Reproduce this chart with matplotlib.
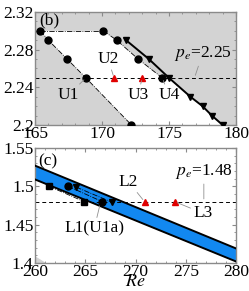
import matplotlib
matplotlib.use("Agg")
import matplotlib.pyplot as plt
from matplotlib.ticker import MultipleLocator

plt.rcParams['font.family'] = ['Liberation Serif', 'DejaVu Serif']
plt.rcParams['mathtext.fontset'] = 'stix'

# ---- panel (b) data ----
b_left_re = [165.4, 166.0, 167.4, 168.8, 172.2]
b_left_pe = [2.30, 2.29, 2.27, 2.25, 2.20]
b_top_re = [165.4, 170.1]
b_top_pe = [2.30, 2.30]
b_right_re = [170.1, 171.1, 172.7, 174.5]
b_right_pe = [2.30, 2.29, 2.27, 2.25]
b_tri_re = [171.8, 173.5, 175.0, 176.6, 177.5, 178.2, 179.0]
b_tri_pe = [2.29, 2.27, 2.25, 2.23, 2.22, 2.21, 2.20]
b_red_re = [170.9, 173.0]
b_red_pe = [2.25, 2.25]
b_pe_line = 2.25

# ---- panel (c) data ----
c_sq_re = [261.4, 264.9]
c_sq_pe = [1.50, 1.48]
c_circ_re = [263.3, 266.7]
c_circ_pe = [1.50, 1.48]
c_tri_re = [264.1, 267.7]
c_tri_pe = [1.499, 1.479]
c_red_re = [270.9, 273.9]
c_red_pe = [1.48, 1.48]
c_band_re = [260, 280]
c_band_upper = [1.527, 1.419]
c_band_lower = [1.509, 1.402]
c_pe_line = 1.48

gray_bg = '#d3d3d3'
spine_col = '#8a8a8a'
lead = dict(arrowstyle='-', color='#909090', lw=0.6, shrinkA=0, shrinkB=2)
FS = 12.5

fig = plt.figure(figsize=(2.49, 2.91), dpi=100)
W, H = 249, 291
axb = fig.add_axes([35 / W, 1 - 125 / H, 201 / W, 113 / H])
axc = fig.add_axes([35 / W, 1 - 263 / H, 201 / W, 115 / H])

def style(ax):
    for s in ax.spines.values():
        s.set_color(spine_col)
        s.set_linewidth(1.0)
    ax.tick_params(which='both', direction='in', top=True, right=True,
                   color=spine_col, labelsize=FS, pad=1.0)
    ax.tick_params(which='major', length=3)
    ax.tick_params(which='minor', length=1.5)

# ---- panel (b) ----
axb.set_facecolor(gray_bg)
poly_x = b_top_re + b_right_re + b_tri_re[2:] + b_left_re[::-1]
poly_y = b_top_pe + b_right_pe + b_tri_pe[2:] + b_left_pe[::-1]
axb.fill(poly_x, poly_y, color='white', zorder=1, lw=0)
axb.axhline(b_pe_line, color='black', ls=(0, (4, 3)), lw=0.7, zorder=2)
axb.plot(b_left_re, b_left_pe, color='black', ls='-.', lw=0.6, zorder=3)
axb.plot(b_top_re, b_top_pe, color='black', ls='-.', lw=0.6, zorder=3)
axb.plot(b_right_re, b_right_pe, color='black', ls='-.', lw=0.6, zorder=3)
axb.plot(b_left_re, b_left_pe, 'o', color='black', ms=5, zorder=4)
axb.plot(b_right_re, b_right_pe, 'o', color='black', ms=5, zorder=4)
axb.plot(b_tri_re, b_tri_pe, '-v', color='black', lw=1.4, ms=5, zorder=4)
axb.plot(b_red_re, b_red_pe, '^', color='#e00000', ms=4, zorder=5)

axb.set_xlim(165, 180)
axb.set_ylim(2.2, 2.32)
axb.xaxis.set_minor_locator(MultipleLocator(1))
axb.yaxis.set_minor_locator(MultipleLocator(0.01))
axb.set_xticks([165, 170, 175, 180], ['165', '170', '175', '180'])
axb.set_yticks([2.2, 2.24, 2.28, 2.32], ['2.2', '2.24', '2.28', '2.32'])
style(axb)

axb.text(166.05, 2.311, '(b)', fontsize=FS, ha='center', va='center', zorder=6)
axb.annotate('U1', xy=(168.8, 2.25), xytext=(167.5, 2.232), fontsize=FS,
             ha='center', va='center', arrowprops=lead, zorder=6)
axb.annotate('U2', xy=(170.9, 2.25), xytext=(170.45, 2.270), fontsize=FS,
             ha='center', va='center', arrowprops=lead, zorder=6)
axb.annotate('U3', xy=(173.0, 2.25), xytext=(172.7, 2.232), fontsize=FS,
             ha='center', va='center', arrowprops=lead, zorder=6)
axb.annotate('U4', xy=(174.5, 2.25), xytext=(175.0, 2.232), fontsize=FS,
             ha='center', va='center', arrowprops=lead, zorder=6)
axb.annotate('$p_e$=2.25', xy=(176.9, 2.25), xytext=(177.5, 2.2755), fontsize=FS,
             ha='center', va='center', arrowprops=lead, zorder=6)

# ---- panel (c) ----
axc.fill([260, 260, 261.1], [1.40, 1.409, 1.40], color=gray_bg, lw=0, zorder=1)
axc.fill_between(c_band_re, c_band_lower, c_band_upper, color='#1288f0', lw=0, zorder=2)
axc.plot(c_band_re, c_band_upper, color='black', lw=1.4, zorder=3)
axc.plot(c_band_re, c_band_lower, color='black', lw=1.4, zorder=3)
axc.axhline(c_pe_line, color='black', ls=(0, (4, 3)), lw=0.7, zorder=2.5)
axc.plot(c_sq_re, c_sq_pe, 's-.', color='black', lw=0.6, ms=4.5, zorder=4)
axc.plot(c_circ_re, c_circ_pe, 'o-.', color='black', lw=0.6, ms=5, zorder=4)
axc.plot(c_tri_re, c_tri_pe, 'v-.', color='black', lw=0.6, ms=5, zorder=4)
axc.plot(c_red_re, c_red_pe, '^', color='#e00000', ms=4, zorder=5)

axc.set_xlim(260, 280)
axc.set_ylim(1.4, 1.55)
axc.xaxis.set_minor_locator(MultipleLocator(1))
axc.yaxis.set_minor_locator(MultipleLocator(0.01))
axc.set_xticks([260, 265, 270, 275, 280], ['260', '265', '270', '275', '280'])
axc.set_yticks([1.4, 1.45, 1.5, 1.55], ['1.4', '1.45', '1.5', '1.55'])
style(axc)
axc.set_xlabel('$Re$', fontsize=13, labelpad=-5)

axc.text(261.3, 1.532, '(c)', fontsize=FS, ha='center', va='center', zorder=6)
axc.annotate('L1(U1a)', xy=(266.5, 1.478), xytext=(265.9, 1.4453), fontsize=FS,
             ha='center', va='center', arrowprops=lead, zorder=6)
axc.annotate('L2', xy=(270.9, 1.48), xytext=(269.3, 1.506), fontsize=FS,
             ha='center', va='center', arrowprops=lead, zorder=6)
axc.annotate('L3', xy=(273.9, 1.48), xytext=(276.7, 1.465), fontsize=FS,
             ha='center', va='center', arrowprops=lead, zorder=6)
axc.annotate('$p_e$=1.48', xy=(276.8, 1.48), xytext=(276.8, 1.519), fontsize=FS,
             ha='center', va='center', arrowprops=lead, zorder=6)

fig.savefig('out.png', dpi=100)
